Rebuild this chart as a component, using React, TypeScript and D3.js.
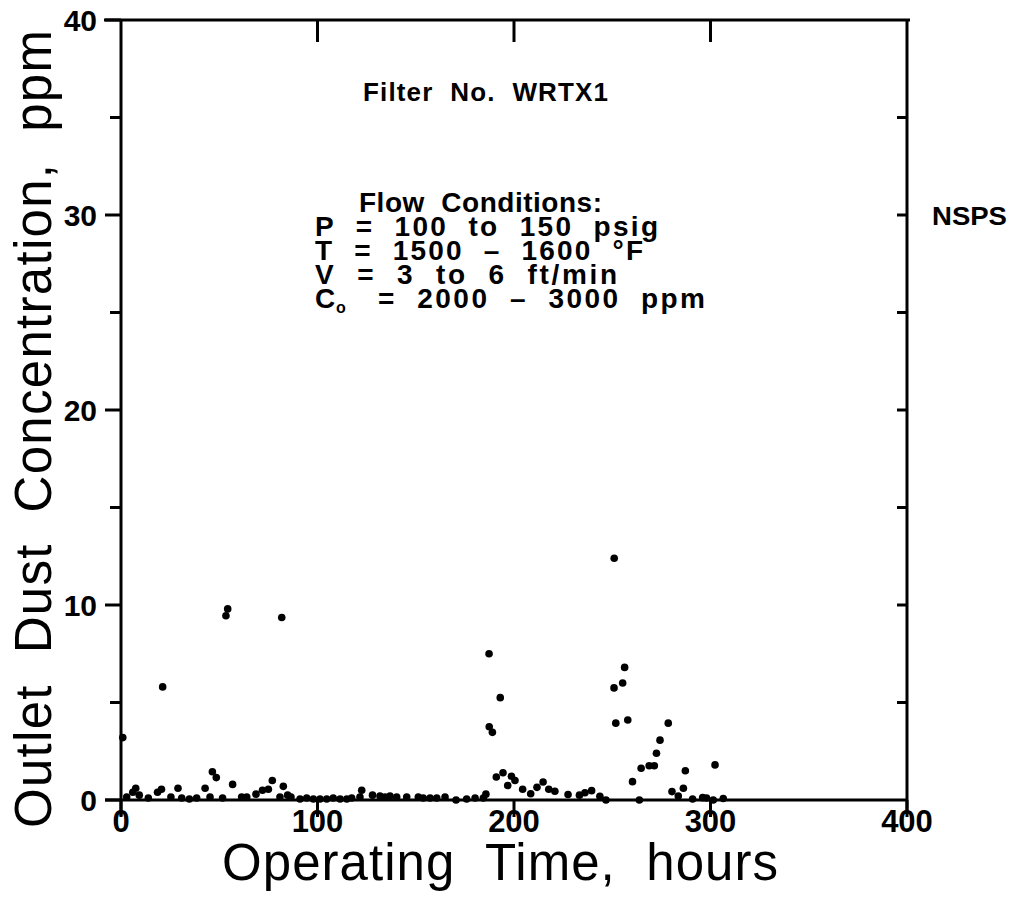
import React from "react";
import * as d3 from "d3";

const hours: number[] = [
  0.9, 2.9, 6, 7.5, 9.3, 13.9, 18.6, 20.6, 21.2, 25.4, 29, 30.9, 34.8, 38.5, 42.8, 45.3, 46.5, 48.5, 51.7,
  53.4, 54.3, 56.8, 61.4, 64, 68.7, 72, 75, 77, 80.9, 81.8, 82.6, 84.8, 86.5, 91.1, 94.5, 97.9, 101.3,
  104.7, 108, 111.5, 114.9, 117.4, 121.6, 122.5, 128, 131.8, 134.4, 136.9, 140.3, 145.4, 151.3, 153.8,
  157.3, 160.7, 164.9, 170.5, 175.9, 180.2, 184.4, 185.7, 187.3, 187.4, 189, 191, 193, 194.4, 196.8,
  198.7, 200.5, 204.4, 208.5, 211.7, 214.8, 217.7, 220.8, 227.5, 233.3, 236.1, 239.5, 243.7, 246.8,
  250.9, 251, 251.8, 255.3, 256.3, 257.9, 260.3, 263.8, 264.7, 268.8, 271.4, 272.5, 274.3, 278.5, 280.4,
  283.6, 286.2, 287.2, 290.9, 296, 298, 301.4, 302.3, 306.5,
];
const concentration: number[] = [
  3.2, 0.15, 0.4, 0.6, 0.25, 0.1, 0.4, 0.55, 5.8, 0.15, 0.6, 0.1, 0.05, 0.1, 0.6, 0.15, 1.45, 1.15, 0.1,
  9.45, 9.8, 0.8, 0.15, 0.15, 0.3, 0.5, 0.55, 1.0, 0.15, 9.36, 0.7, 0.25, 0.15, 0.05, 0.1, 0.05, 0.05,
  0.05, 0.1, 0.05, 0.05, 0.1, 0.15, 0.5, 0.25, 0.2, 0.15, 0.2, 0.15, 0.15, 0.15, 0.1,
  0.1, 0.1, 0.15, 0.0, 0.05, 0.1, 0.1, 0.3, 7.5, 3.76, 3.47, 1.18, 5.25, 1.4, 0.74,
  1.22, 1.0, 0.55, 0.32, 0.65, 0.92, 0.55, 0.45, 0.28, 0.25, 0.37, 0.48, 0.19, 0.0,
  5.75, 12.4, 3.94, 6.0, 6.8, 4.1, 0.94, 0.0, 1.63, 1.76, 1.76, 2.4, 3.07, 3.94, 0.43,
  0.2, 0.6, 1.5, 0.05, 0.12, 0.1, 0.0, 1.8, 0.08,
];

const xTicks: number[] = [0, 100, 200, 300, 400];
const yTicks: number[] = [0, 10, 20, 30, 40];
const yMinorTicks: number[] = [5, 15, 25, 35];

const X0 = 121, X1 = 907, Y0 = 800, Y1 = 20;
const x = d3.scaleLinear().domain([0, 400]).range([X0, X1]);
const y = d3.scaleLinear().domain([0, 40]).range([Y0, Y1]);

const txt = { fontFamily: "'Liberation Sans', Arial, sans-serif", fill: "#000" };
const ann = { ...txt, fontWeight: 700 as const };

export default function App() {
  const axisStroke = { stroke: "#000", strokeWidth: 3, fill: "none" };
  return (
    <svg width={1015} height={903} style={{ position: "absolute", left: 0, top: 0, background: "#fff" }}>
      <rect width={1015} height={903} fill="#fff" />
      {/* frame */}
      <line x1={X0 - 17} x2={X1 + 3} y1={Y1} y2={Y1} {...axisStroke} />
      <line x1={X0 - 16} x2={X1} y1={Y0} y2={Y0} {...axisStroke} />
      <line x1={X0} x2={X0} y1={Y1} y2={Y0 + 16} {...axisStroke} />
      <line x1={X1} x2={X1} y1={Y1} y2={Y0 + 12} {...axisStroke} />
      {yTicks.map((t) => (
        <line key={"yl" + t} x1={X0 - 16} x2={X0} y1={y(t)} y2={y(t)} {...axisStroke} />
      ))}
      {yMinorTicks.map((t) => (
        <line key={"ym" + t} x1={X0 - 11} x2={X0} y1={y(t)} y2={y(t)} {...axisStroke} />
      ))}
      {[...yMinorTicks, 10, 20, 30].map((t) => (
        <line key={"yr" + t} x1={X1 - 10} x2={X1} y1={y(t)} y2={y(t)} {...axisStroke} />
      ))}
      {xTicks.map((t) => (
        <line key={"xb" + t} x1={x(t)} x2={x(t)} y1={Y0} y2={Y0 + 17} {...axisStroke} />
      ))}
      {xTicks.slice(1, 4).map((t) => (
        <line key={"xt" + t} x1={x(t)} x2={x(t)} y1={Y1} y2={Y1 + 22} {...axisStroke} />
      ))}
      {xTicks.map((t) => (
        <text key={"xl" + t} x={x(t)} y={832} textAnchor="middle" fontSize={31} {...ann}>
          {t}
        </text>
      ))}
      {yTicks.map((t) => (
        <text key={"ylb" + t} x={97} y={y(t) + 11} textAnchor="end" fontSize={30} {...ann}>
          {t}
        </text>
      ))}
      <text x={222} y={880} fontSize={51} textLength={556} lengthAdjust="spacing" {...txt} style={{ whiteSpace: "pre" }}>
        Operating  Time,  hours
      </text>
      <text
        transform={`translate(51,828) rotate(-90)`}
        fontSize={51}
        textLength={798}
        lengthAdjust="spacing"
        {...txt}
        style={{ whiteSpace: "pre" }}
      >
        Outlet  Dust  Concentration,  ppm
      </text>
      <text x={363} y={101} fontSize={26} textLength={245} lengthAdjust="spacing" {...ann} style={{ whiteSpace: "pre" }}>
        Filter  No.  WRTX1
      </text>
      <text fontSize={28} {...ann} style={{ whiteSpace: "pre" }}>
        <tspan x={359} y={212} textLength={243} lengthAdjust="spacing">Flow  Conditions:</tspan>
        <tspan x={315} y={236} textLength={343} lengthAdjust="spacing">P  =  100  to  150  psig</tspan>
        <tspan x={315} y={260} textLength={328} lengthAdjust="spacing">T  =  1500  –  1600  °F</tspan>
        <tspan x={315} y={284} textLength={302} lengthAdjust="spacing">V  =  3  to  6  ft/min</tspan>
        <tspan x={315} y={308}>C</tspan>
        <tspan x={336} y={313} fontSize={16}>o</tspan>
        <tspan x={378} y={308} textLength={327} lengthAdjust="spacing">=  2000  –  3000  ppm</tspan>
      </text>
      <text x={932} y={225} fontSize={25} textLength={75} lengthAdjust="spacingAndGlyphs" {...ann}>
        NSPS
      </text>
      {hours.map((h, i) => (
        <circle key={"p" + i} cx={x(h)} cy={y(concentration[i])} r={3.8} fill="#000" />
      ))}
    </svg>
  );
}
